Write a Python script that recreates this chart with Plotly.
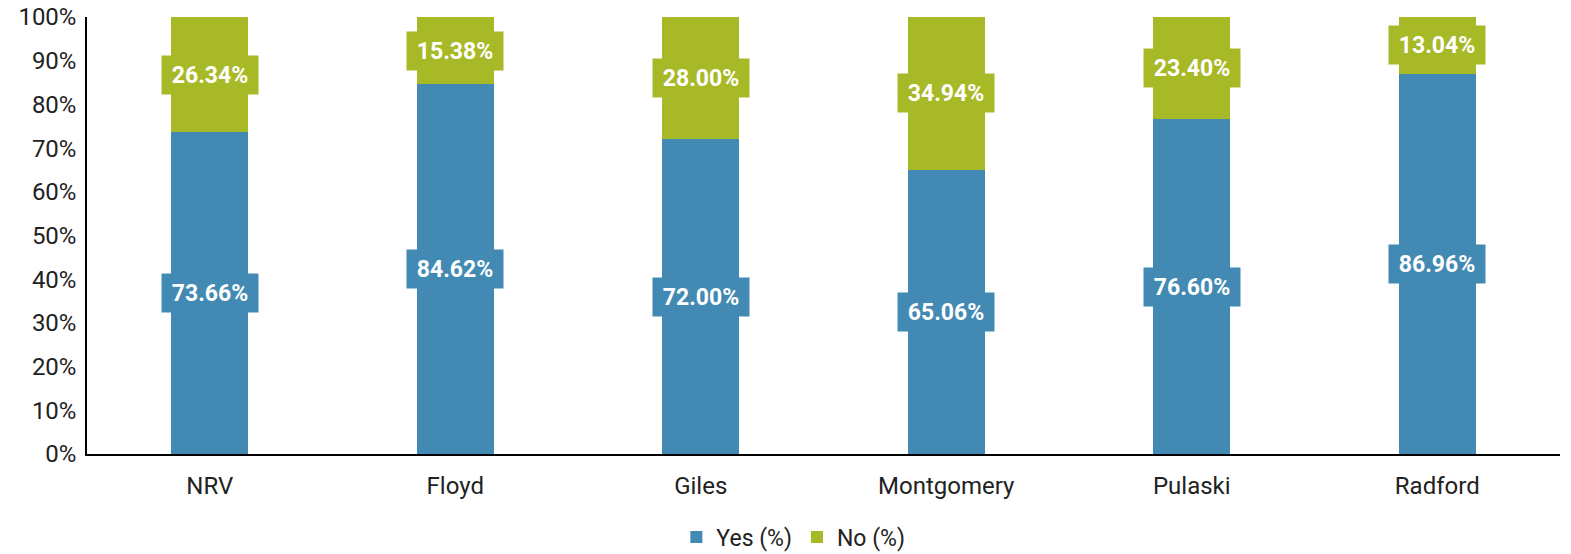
import plotly.graph_objects as go

# Share of respondents answering yes / no, by locality
regions = ["NRV", "Floyd", "Giles", "Montgomery", "Pulaski", "Radford"]
yes_pct = [73.66, 84.62, 72.00, 65.06, 76.60, 86.96]
no_pct = [26.34, 15.38, 28.00, 34.94, 23.40, 13.04]
y_ticks = [0, 10, 20, 30, 40, 50, 60, 70, 80, 90, 100]

BLUE = "#428AB4"
GREEN = "#A8B927"
FONT = "Roboto"
W, H = 1571, 554

fig = go.Figure()
fig.add_bar(x=regions, y=yes_pct, name="Yes (%)", marker_color=BLUE,
            marker_line_width=0)
fig.add_bar(x=regions, y=no_pct, name="No (%)", marker_color=GREEN,
            marker_line_width=0)

# Value labels with a filled box in the segment colour, centred on each segment
for r, yv, nv in zip(regions, yes_pct, no_pct):
    for val, base, col in ((yv, 0, BLUE), (nv, yv, GREEN)):
        fig.add_annotation(
            x=r, y=base + val / 2, text=f"<b>{val:.2f}%</b>",
            showarrow=False, bgcolor=col, borderpad=5, width=86, height=28,
            font=dict(family=FONT, size=23, color="white"),
        )

fig.update_layout(
    barmode="stack",
    bargap=0.686,
    width=W, height=H,
    margin=dict(l=87, r=11, t=17, b=100, autoexpand=False),
    plot_bgcolor="white", paper_bgcolor="white",
    font=dict(family=FONT, size=24, color="#222222"),
    legend=dict(orientation="h", xref="container", x=0.505, xanchor="center",
                yref="container", y=(H - 537) / H, yanchor="middle",
                font=dict(size=23), traceorder="normal", itemwidth=30),
    xaxis=dict(showline=True, linecolor="black", linewidth=1.5,
               ticks="", tickfont=dict(size=24), showgrid=False,
               ticklabelstandoff=9),
    yaxis=dict(range=[0, 100], tickvals=y_ticks,
               ticktext=[f"{t}%" for t in y_ticks], showline=True,
               linecolor="black", linewidth=1.5, showgrid=False,
               zeroline=False, ticks="", tickfont=dict(size=24),
               ticklabelstandoff=4),
)

fig.write_html("out.html")
